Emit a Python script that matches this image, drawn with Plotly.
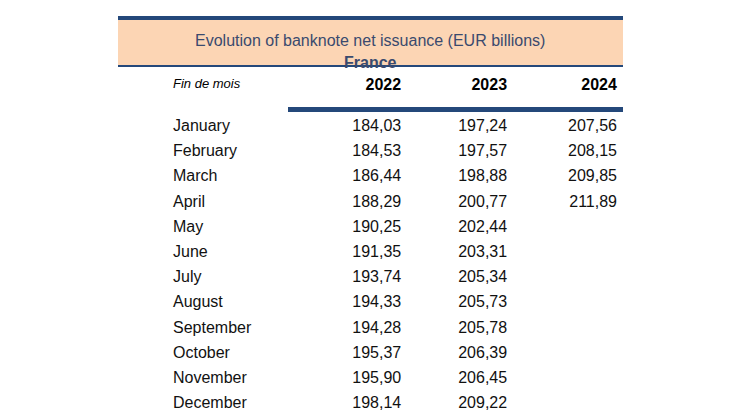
import plotly.graph_objects as go

months = ["January","February","March","April","May","June","July","August",
          "September","October","November","December"]
v2022 = ["184,03","184,53","186,44","188,29","190,25","191,35","193,74","194,33",
         "194,28","195,37","195,90","198,14"]
v2023 = ["197,24","197,57","198,88","200,77","202,44","203,31","205,34","205,73",
         "205,78","206,39","206,45","209,22"]
v2024 = ["207,56","208,15","209,85","211,89","","","","","","","",""]
col_headers = ["<i>Fin de mois</i>","<b>2022</b>","<b>2023</b>","<b>2024</b>"]
title = "Evolution of banknote net issuance (EUR billions)"
subtitle = "France"

W, H = 730, 410
NAVY = "#24487a"
TXT = "#3a4a6e"
def px(x): return x / W
def py(y): return 1 - y / H

fig = go.Figure(go.Table(
    domain=dict(x=[px(157), px(618)], y=[py(406), py(60)]),
    columnwidth=[141, 108, 108, 112],
    header=dict(values=col_headers, align=["left","right","right","right"],
                fill_color="white", line_color="white", height=43,
                font=dict(family="Liberation Sans", size=[13,16,16,16], color="black")),
    cells=dict(values=[months, v2022, v2023, v2024],
               align=["left","right","right","right"],
               fill_color="white", line_color="white", height=25.2,
               font=dict(family="Liberation Sans", size=16, color="#111111")),
))

shapes = [
    dict(type="rect", xref="paper", yref="paper", x0=px(110), x1=px(615), y0=py(57), y1=py(12),
         fillcolor="#fcd5b4", line_width=0, layer="below"),
    dict(type="rect", xref="paper", yref="paper", x0=px(110), x1=px(615), y0=py(12), y1=py(8),
         fillcolor=NAVY, line_width=0),
    dict(type="rect", xref="paper", yref="paper", x0=px(110), x1=px(615), y0=py(59), y1=py(57),
         fillcolor=NAVY, line_width=0),
    dict(type="rect", xref="paper", yref="paper", x0=px(280), x1=px(615), y0=py(104), y1=py(99),
         fillcolor=NAVY, line_width=0),
    dict(type="rect", xref="paper", yref="paper", x0=px(110), x1=px(615), y0=py(410), y1=py(403),
         fillcolor=NAVY, line_width=0),
]
annotations = [
    dict(text=title, x=px(362), y=py(22), xref="paper", yref="paper", showarrow=False,
         font=dict(family="Liberation Sans", size=16, color=TXT)),
    dict(text="<b>"+subtitle+"</b>", x=px(362), y=py(44), xref="paper", yref="paper", showarrow=False,
         font=dict(family="Liberation Sans", size=16, color=TXT)),
]
fig.update_layout(width=W, height=H, margin=dict(l=0, r=0, t=0, b=0),
                  paper_bgcolor="white", plot_bgcolor="white",
                  shapes=shapes, annotations=annotations)
fig.write_html("out.html")
